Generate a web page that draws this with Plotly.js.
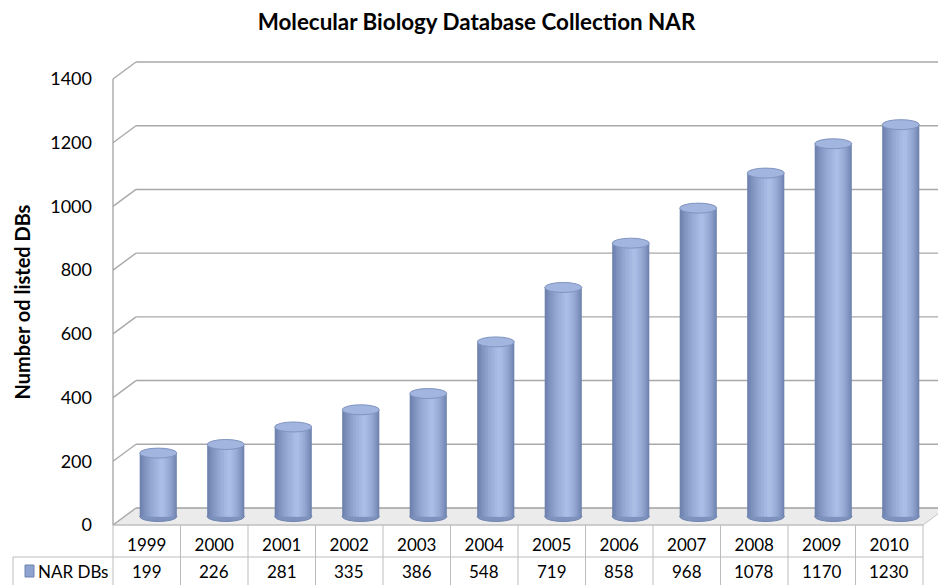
<!DOCTYPE html>
<html><head><meta charset="utf-8">
<script src="https://cdn.plot.ly/plotly-3.0.1.min.js"></script>
<style>html,body{margin:0;padding:0;background:#fff}</style>
</head><body><div id="chart" style="width:938px;height:585px"></div>
<script>
// ---- data ----
const years = ['1999','2000','2001','2002','2003','2004','2005','2006','2007','2008','2009','2010'];
const dbCounts = [199,226,281,335,386,548,719,858,968,1078,1170,1230];
const yTicks = [0,200,400,600,800,1000,1200,1400];
const seriesName = 'NAR DBs';
const chartTitle = 'Molecular Biology Database Collection NAR';
const yTitle = 'Number od listed DBs';

// ---- geometry ----
const W = 938, H = 585, L = 113, R = 15, T = 79, B = 60;
const pw = W - L - R, ph = H - T - B;
const yMax = 1400;
const depthX = 23, depthY = 17;
const n = years.length;
const catPx = pw / n;
const unitPx = ph / yMax;
const x2Range = [-0.5 - (depthX / 2) / catPx, n - 0.5 - (depthX / 2) / catPx];
const y2Range = [-(depthY / 2) / unitPx, yMax - (depthY / 2) / unitPx];
const FONT = 'Lato, "Open Sans", sans-serif';
const gridColor = '#a9a9a9';
const tableColor = '#bdbdbd';
const px2paperX = p => (p - L) / pw;
const px2paperY = p => (H - B - p) / ph;
const halfW = 0.275;

// ---- cylinder shading layers (nested, highlight right of centre) ----
const layerWidths = [0.55, 0.51, 0.46, 0.41, 0.35, 0.29, 0.22, 0.14, 0.07];
const layerColors = ['#6e82ae', '#7689b6', '#7e92be', '#8699c5', '#8ea1cc', '#95a9d3', '#9cb0da', '#a3b7e0', '#a9bde5'];
const traces = layerWidths.map((w, k) => {
  const s = 0.05 * k / (layerWidths.length - 1);
  return {
    type: 'bar', x: years, y: dbCounts, xaxis: 'x2', yaxis: 'y2',
    width: w, offset: -w / 2 + s,
    marker: {color: layerColors[k], line: {width: 0}},
    name: seriesName, showlegend: false,
    hoverinfo: k === 0 ? 'x+y' : 'skip'
  };
});

const shapes = [];
// floor
shapes.push({type: 'path', layer: 'below', xref: 'paper', yref: 'paper',
  xsizemode: 'pixel', xanchor: 0, ysizemode: 'pixel', yanchor: 0,
  path: `M0,0 L${pw},0 L${pw + depthX},${depthY} L${depthX},${depthY} Z`,
  fillcolor: '#ebebeb', line: {color: '#c4c4c4', width: 1}});
// back wall gridlines and left diagonals
yTicks.forEach(v => {
  shapes.push({type: 'line', layer: 'below', xref: 'paper', yref: 'paper',
    xsizemode: 'pixel', xanchor: 0, x0: depthX, x1: pw + depthX + 30,
    ysizemode: 'pixel', yanchor: v / yMax, y0: depthY, y1: depthY,
    line: {color: gridColor, width: 1.4}});
  shapes.push({type: 'line', layer: 'below', xref: 'paper', yref: 'paper',
    xsizemode: 'pixel', xanchor: 0, x0: 0, x1: depthX,
    ysizemode: 'pixel', yanchor: v / yMax, y0: 0, y1: depthY,
    line: {color: gridColor, width: 1.4}});
});
// front-left vertical edge
shapes.push({type: 'line', layer: 'below', xref: 'paper', yref: 'paper',
  x0: 0, x1: 0, y0: 0, y1: 1, line: {color: gridColor, width: 1.4}});
// cylinder bottoms and tops
dbCounts.forEach((v, i) => {
  shapes.push({type: 'circle', layer: 'below', xref: 'x2', yref: 'y2',
    x0: i - halfW, x1: i + halfW, ysizemode: 'pixel', yanchor: 0, y0: -5, y1: 5,
    fillcolor: '#7e92be', line: {color: '#6e82ae', width: 1}});
  shapes.push({type: 'circle', layer: 'above', xref: 'x2', yref: 'y2',
    x0: i - halfW, x1: i + halfW, ysizemode: 'pixel', yanchor: v, y0: -5, y1: 5,
    fillcolor: '#a2b5de', line: {color: '#8094c1', width: 1}});
});
// data table lines
const tTop = 0, tMid = px2paperY(557), tBot = px2paperY(H + 2);
const leftX = px2paperX(13);
shapes.push({type: 'line', xref: 'paper', yref: 'paper', x0: 0, x1: 1, y0: tTop, y1: tTop, line: {color: tableColor, width: 1}});
shapes.push({type: 'line', xref: 'paper', yref: 'paper', x0: leftX, x1: 1, y0: tMid, y1: tMid, line: {color: tableColor, width: 1}});
for (let k = 0; k <= n; k++) {
  shapes.push({type: 'line', xref: 'paper', yref: 'paper', x0: k / n, x1: k / n, y0: tTop, y1: tBot, line: {color: tableColor, width: 1}});
}
shapes.push({type: 'line', xref: 'paper', yref: 'paper', x0: leftX, x1: leftX, y0: tMid, y1: tBot, line: {color: tableColor, width: 1}});
// legend key in table
shapes.push({type: 'rect', xref: 'paper', yref: 'paper',
  x0: px2paperX(25), x1: px2paperX(34), y0: px2paperY(577), y1: px2paperY(565),
  fillcolor: '#8ea3cf', line: {color: '#6e82ae', width: 1}});

const annotations = dbCounts.map((v, i) => ({
  xref: 'x', yref: 'paper', x: i, y: 0, yshift: -(571 - (H - B)),
  yanchor: 'middle', xanchor: 'center', showarrow: false,
  text: String(v), font: {family: FONT, size: 17, color: '#000'}
}));
annotations.push({xref: 'paper', yref: 'paper', x: px2paperX(36), y: 0, yshift: -(571 - (H - B)),
  xanchor: 'left', yanchor: 'middle', showarrow: false, text: seriesName,
  font: {family: FONT, size: 17, color: '#000'}});

const layout = {
  width: W, height: H,
  margin: {l: L, r: R, t: T, b: B, pad: 0},
  paper_bgcolor: '#fff', plot_bgcolor: 'rgba(0,0,0,0)',
  barmode: 'overlay', showlegend: false,
  font: {family: FONT, color: '#000'},
  title: {text: chartTitle, font: {family: FONT, size: 22.4, weight: 'bold', color: '#000'},
    xref: 'container', x: 476.5 / W, xanchor: 'center', yref: 'container', y: 1 - 22 / H, yanchor: 'middle'},
  xaxis: {type: 'category', range: [-0.5, n - 0.5], categoryarray: years, categoryorder: 'array',
    showgrid: false, zeroline: false, showline: false, ticks: '', ticklabelstandoff: 8,
    tickfont: {family: FONT, size: 17, color: '#000'}, fixedrange: true},
  yaxis: {range: [0, yMax], tickvals: yTicks, ticktext: yTicks.map(String),
    showgrid: false, zeroline: false, showline: false, ticks: '', ticklabelstandoff: 20,
    tickfont: {family: FONT, size: 18, color: '#000'}, fixedrange: true,
    title: {text: yTitle, standoff: 14, font: {family: FONT, size: 20, weight: 'bold', color: '#000'}}},
  xaxis2: {type: 'category', overlaying: 'x', range: x2Range, categoryarray: years, categoryorder: 'array',
    visible: false, fixedrange: true},
  yaxis2: {overlaying: 'y', range: y2Range, visible: false, fixedrange: true},
  shapes: shapes,
  annotations: annotations
};

Plotly.newPlot('chart', traces, layout, {displayModeBar: false, staticPlot: true});
</script>
</body></html>
